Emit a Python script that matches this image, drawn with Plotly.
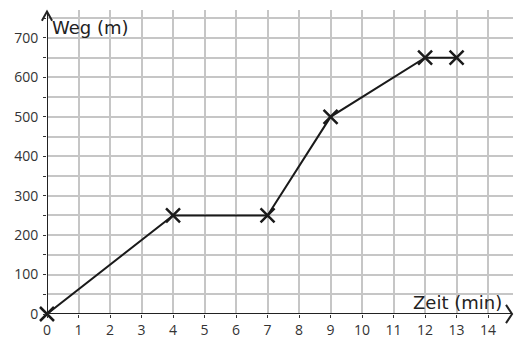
import plotly.graph_objects as go

zeit = [0, 4, 7, 9, 12, 13]
weg = [0, 250, 250, 500, 650, 650]
x_ticks = list(range(0, 15))
y_ticks = list(range(0, 701, 100))

fig = go.Figure()
fig.add_trace(go.Scatter(
    x=zeit, y=weg, mode="lines+markers",
    line=dict(color="#1a1a1a", width=2),
    marker=dict(symbol="x-thin", size=14, line=dict(color="#1a1a1a", width=2.5)),
    cliponaxis=False, showlegend=False,
))

font = dict(family="Open Sans, DejaVu Sans, sans-serif", size=14, color="#333")
grid = "#c6c6c6"

# page body adds an 8px offset; figure sized to fill the remaining window
fig.update_layout(
    width=516, height=338,
    margin=dict(l=39, r=11, t=2, b=32),
    paper_bgcolor="white", plot_bgcolor="white",
    font=font,
    xaxis=dict(
        range=[0, 14.79], tickvals=x_ticks, ticktext=[str(v) for v in x_ticks],
        showgrid=True, gridcolor=grid, gridwidth=1.5,
        zeroline=False, showline=False,
        ticks="outside", ticklen=3, tickcolor="#333",
        fixedrange=True,
    ),
    yaxis=dict(
        range=[0, 771], tickvals=y_ticks, ticktext=[str(v) for v in y_ticks],
        showgrid=True, gridcolor=grid, gridwidth=1.5,
        zeroline=False, showline=False,
        ticks="outside", ticklen=3, tickcolor="#333",
        minor=dict(dtick=50, showgrid=True, gridcolor=grid, gridwidth=1.5,
                   ticks="outside", ticklen=3, tickcolor="#333"),
        ticklabelstandoff=2,
        fixedrange=True,
    ),
    annotations=[
        dict(x=0, y=1, xref="paper", yref="paper", text="Weg (m)", showarrow=False,
             xanchor="left", yanchor="top", xshift=3, yshift=-5,
             font=dict(family="DejaVu Sans, sans-serif", size=18, color="#222")),
        dict(x=1, y=0, xref="paper", yref="paper", text="Zeit (min)", showarrow=False,
             xanchor="right", yanchor="bottom", xshift=-9, yshift=-1,
             font=dict(family="DejaVu Sans, sans-serif", size=18, color="#222")),
    ],
    shapes=[
        dict(type="line", xref="x", yref="paper", x0=0, x1=0, y0=0, y1=0.995,
             line=dict(color="#222", width=2)),
        dict(type="line", xref="paper", yref="y", x0=0, x1=0.998, y0=0, y1=0,
             line=dict(color="#222", width=2)),
        dict(type="path", xref="paper", yref="paper",
             path="M -0.011,0.965 L 0,0.995 L 0.011,0.965",
             line=dict(color="#222", width=2)),
        dict(type="path", xref="paper", yref="paper",
             path="M 0.985,0.03 L 0.998,0 L 0.985,-0.03",
             line=dict(color="#222", width=2)),
    ],
)

fig.write_html("out.html")
